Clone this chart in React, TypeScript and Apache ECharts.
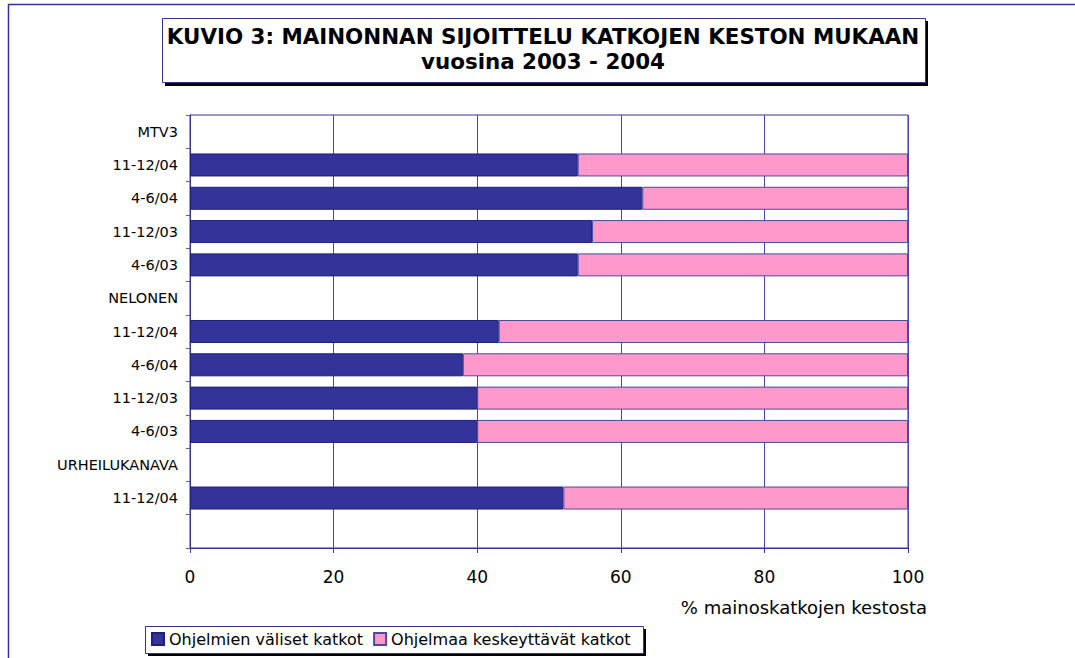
import React, { useEffect, useRef } from "react";
import * as echarts from "echarts";

const categories = [
  "MTV3",
  "11-12/04",
  "4-6/04",
  "11-12/03",
  "4-6/03",
  "NELONEN",
  "11-12/04",
  "4-6/04",
  "11-12/03",
  "4-6/03",
  "URHEILUKANAVA",
  "11-12/04",
  "",
];

const valisetKatkot = [null, 54, 63, 56, 54, null, 43, 38, 40, 40, null, 52, null];
const keskeyttavatKatkot = [null, 46, 37, 44, 46, null, 57, 62, 60, 60, null, 48, null];

const seriesNames = ["Ohjelmien väliset katkot", "Ohjelmaa keskeyttävät katkot"];
const xTicks = [0, 20, 40, 60, 80, 100];

const titleLine1 = "KUVIO 3: MAINONNAN SIJOITTELU KATKOJEN KESTON MUKAAN";
const titleLine2 = "vuosina 2003 - 2004";
const xAxisName = "% mainoskatkojen kestosta";

const FONT = "'DejaVu Sans', Verdana, sans-serif";
const NAVY = "#333399";
const PINK = "#FF99CC";
const EDGE = "#1f1f7a";

export default function App() {
  const ref = useRef<HTMLDivElement>(null);

  useEffect(() => {
    document.body.style.margin = "0";
    if (!ref.current) return;
    const chart = echarts.init(ref.current, undefined, { renderer: "svg" });

    const option: any = {
      animation: false,
      backgroundColor: "#ffffff",
      textStyle: { fontFamily: FONT },
      title: {
        text: titleLine1 + "\n" + titleLine2,
        left: 543,
        top: 24,
        textAlign: "center",
        padding: 0,
        textStyle: {
          fontFamily: FONT,
          fontSize: 21.4,
          fontWeight: "bold",
          color: "#000000",
          lineHeight: 25,
        },
      },
      legend: {
        left: 151,
        top: 631,
        padding: 0,
        itemWidth: 12,
        itemHeight: 12,
        itemGap: 10,
        icon: "rect",
        data: seriesNames,
        textStyle: {
          fontFamily: FONT,
          fontSize: 16,
          color: "#000000",
          lineHeight: 16,
        },
      },
      grid: {
        left: 190,
        right: 167,
        top: 115,
        bottom: 110,
        show: true,
        backgroundColor: "#ffffff",
        borderColor: NAVY,
        borderWidth: 1,
      },
      xAxis: {
        type: "value",
        min: xTicks[0],
        max: xTicks[xTicks.length - 1],
        interval: 20,
        axisLine: { show: true, lineStyle: { color: NAVY, width: 1 } },
        axisTick: { show: true, length: 5, lineStyle: { color: NAVY } },
        axisLabel: {
          margin: 20,
          fontFamily: FONT,
          fontSize: 17,
          color: "#000000",
        },
        splitLine: { show: true, lineStyle: { color: "#4646a8", width: 1 } },
      },
      yAxis: {
        type: "category",
        inverse: true,
        data: categories,
        axisLine: { show: true, lineStyle: { color: NAVY, width: 1 } },
        axisTick: { show: true, length: 4, lineStyle: { color: "#5a5ab0" } },
        axisLabel: {
          margin: 12,
          fontFamily: FONT,
          fontSize: 14.5,
          color: "#000000",
        },
        splitLine: { show: false },
      },
      series: [
        {
          name: seriesNames[0],
          type: "bar",
          stack: "total",
          barWidth: 23,
          data: valisetKatkot,
          itemStyle: { color: NAVY, borderColor: EDGE, borderWidth: 1 },
        },
        {
          name: seriesNames[1],
          type: "bar",
          stack: "total",
          barWidth: 23,
          data: keskeyttavatKatkot,
          itemStyle: { color: PINK, borderColor: "#4a4aa0", borderWidth: 1 },
        },
      ],
      graphic: [
        {
          type: "rect",
          z: -10,
          silent: true,
          shape: { x: 8.5, y: 4.5, width: 1300, height: 1000 },
          style: { fill: "none", stroke: NAVY, lineWidth: 1.5 },
        },
        {
          type: "rect",
          z: 0,
          silent: true,
          shape: { x: 165, y: 21, width: 763, height: 65 },
          style: { fill: "#000000" },
        },
        {
          type: "rect",
          z: 1,
          silent: true,
          shape: { x: 162.5, y: 18.5, width: 763, height: 64 },
          style: { fill: "#ffffff", stroke: NAVY, lineWidth: 1 },
        },
        {
          type: "rect",
          z: 0,
          silent: true,
          shape: { x: 148, y: 629, width: 498, height: 27 },
          style: { fill: "#000000" },
        },
        {
          type: "rect",
          z: 1,
          silent: true,
          shape: { x: 145.5, y: 626.5, width: 498, height: 27 },
          style: { fill: "#ffffff", stroke: NAVY, lineWidth: 1 },
        },
        {
          type: "text",
          z: 5,
          silent: true,
          x: 927,
          y: 607,
          style: {
            text: xAxisName,
            fontFamily: FONT,
            fontSize: 18,
            fill: "#000000",
            align: "right",
            verticalAlign: "middle",
          },
        },
      ],
    };

    chart.setOption(option);
    return () => {
      chart.dispose();
    };
  }, []);

  return <div ref={ref} style={{ width: 1075, height: 658 }} />;
}
